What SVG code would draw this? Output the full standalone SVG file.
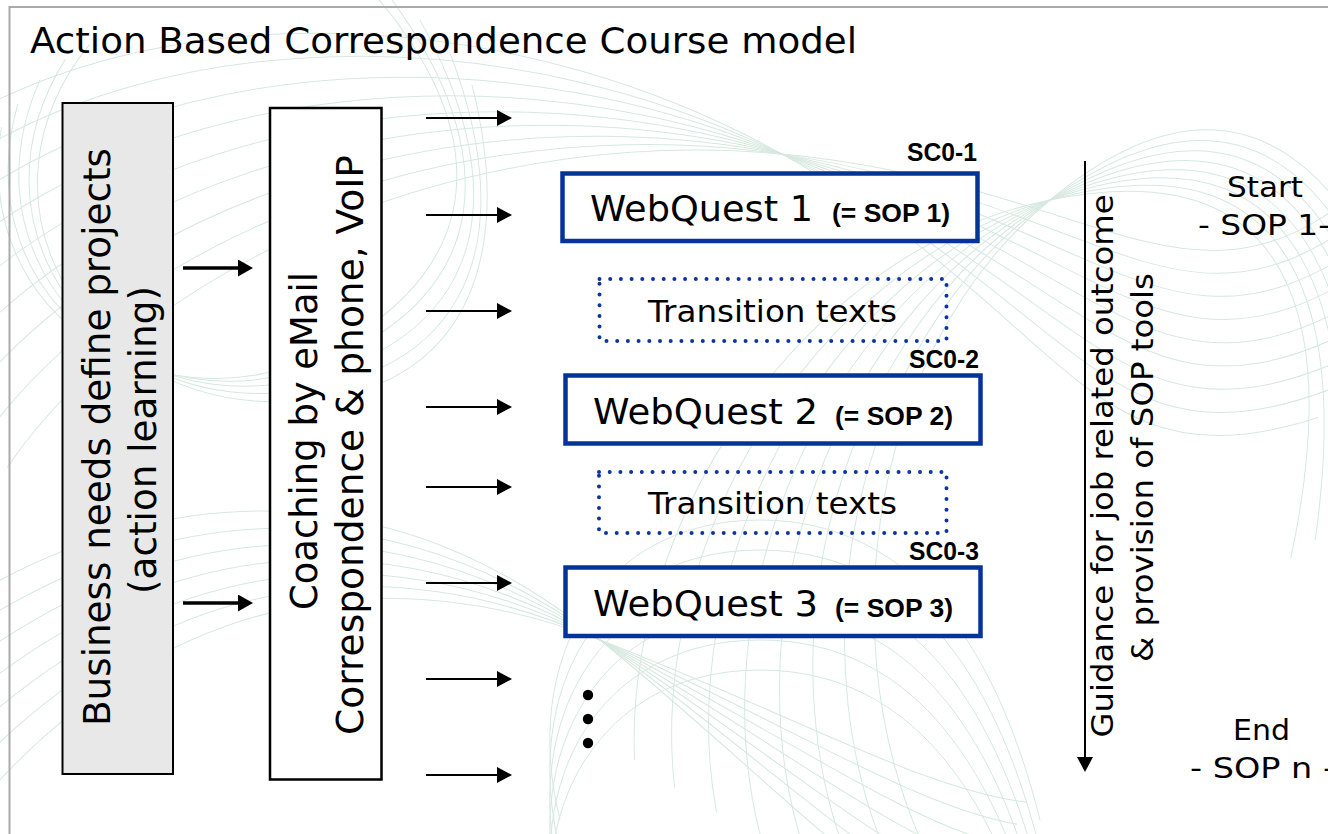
<svg xmlns="http://www.w3.org/2000/svg" xmlns:xlink="http://www.w3.org/1999/xlink" width="1328" height="834" viewBox="0 0 1328 834">
  <style>
    .sans { font-family: "DejaVu Sans", Verdana, sans-serif; fill: #000; }
    .bold { font-family: "Liberation Sans", Arial, sans-serif; font-weight: bold; fill: #000; }
    .quest { fill: #fff; stroke: #063399; stroke-width: 4.5; }
    .trans { fill: none; stroke: #0a35a0; stroke-width: 4; stroke-linecap: round; stroke-dasharray: 0 10.7; }
    .thin { stroke: #000; stroke-width: 2; fill: none; }
    .thick { stroke: #000; stroke-width: 3.5; fill: none; }
    .swirl { fill: none; stroke: #d6e8e0; stroke-width: 1; }
  </style>
  <defs>
    <marker id="head" viewBox="0 0 15 16" refX="0" refY="8" markerWidth="15" markerHeight="16" markerUnits="userSpaceOnUse" orient="auto">
      <path d="M0,0 L15,8 L0,16 Z" fill="#000"/>
    </marker>
    <marker id="headBig" viewBox="0 0 15 17" refX="0" refY="8.5" markerWidth="15" markerHeight="17" markerUnits="userSpaceOnUse" orient="auto">
      <path d="M0,0 L15,8.5 L0,17 Z" fill="#000"/>
    </marker>
    <!-- building blocks of the background guilloche -->
    <path id="c1" d="M-40,300 C150,120 500,60 800,160 S1150,420 1360,300"/>
    <path id="c2" d="M760,834 C700,600 820,300 1050,200 S1360,260 1360,500"/>
    <path id="c3" d="M-20,700 C200,520 420,540 600,640 S900,834 1000,860"/>
    <path id="c4" d="M40,80 C-40,260 120,420 300,380 S520,200 420,20"/>
    <path id="c5" d="M560,860 C520,700 600,560 760,560 S1000,700 1040,860"/>
  </defs>

  <rect width="1328" height="834" fill="#fff"/>

  <!-- faint guilloche texture -->
  <g id="texture" class="swirl">
    <g>
      <use xlink:href="#c1" transform="rotate(-12 780 160)"/>
      <use xlink:href="#c1" transform="rotate(-9 780 160)"/>
      <use xlink:href="#c1" transform="rotate(-6 780 160)"/>
      <use xlink:href="#c1" transform="rotate(-3 780 160)"/>
      <use xlink:href="#c1"/>
      <use xlink:href="#c1" transform="rotate(3 780 160)"/>
      <use xlink:href="#c1" transform="rotate(6 780 160)"/>
      <use xlink:href="#c1" transform="rotate(9 780 160)"/>
      <use xlink:href="#c1" transform="rotate(12 780 160)"/>
    </g>
    <g>
      <use xlink:href="#c2" transform="rotate(-16 1050 200)"/>
      <use xlink:href="#c2" transform="rotate(-12 1050 200)"/>
      <use xlink:href="#c2" transform="rotate(-8 1050 200)"/>
      <use xlink:href="#c2" transform="rotate(-4 1050 200)"/>
      <use xlink:href="#c2"/>
      <use xlink:href="#c2" transform="rotate(4 1050 200)"/>
      <use xlink:href="#c2" transform="rotate(8 1050 200)"/>
      <use xlink:href="#c2" transform="rotate(12 1050 200)"/>
    </g>
    <g>
      <use xlink:href="#c3" transform="rotate(-8 600 640)"/>
      <use xlink:href="#c3" transform="rotate(-5 600 640)"/>
      <use xlink:href="#c3" transform="rotate(-2 600 640)"/>
      <use xlink:href="#c3" transform="rotate(1 600 640)"/>
      <use xlink:href="#c3" transform="rotate(4 600 640)"/>
      <use xlink:href="#c3" transform="rotate(7 600 640)"/>
      <use xlink:href="#c3" transform="rotate(10 600 640)"/>
    </g>
    <g>
      <use xlink:href="#c4" transform="rotate(-15 200 250)"/>
      <use xlink:href="#c4" transform="rotate(-8 200 250)"/>
      <use xlink:href="#c4"/>
      <use xlink:href="#c4" transform="rotate(8 200 250)"/>
      <use xlink:href="#c4" transform="rotate(15 200 250)"/>
    </g>
    <g>
      <use xlink:href="#c5" transform="translate(0 -40)"/>
      <use xlink:href="#c5" transform="translate(0 -10)"/>
      <use xlink:href="#c5" transform="translate(0 20)"/>
      <use xlink:href="#c5" transform="translate(0 50)"/>
      <use xlink:href="#c5" transform="translate(0 80)"/>
      <use xlink:href="#c5" transform="translate(0 110)"/>
    </g>
  </g>

  <!-- slide frame (top and left edges) -->
  <path d="M9.5,834 V7 H1328" fill="none" stroke="#aaaaaa" stroke-width="2"/>

  <text id="title" class="sans" x="30" y="53" font-size="36" textLength="827" lengthAdjust="spacingAndGlyphs">Action Based Correspondence Course model</text>

  <g id="business">
    <rect x="62.5" y="103" width="110.5" height="671" fill="#e8e8e8" stroke="#000" stroke-width="2"/>
    <text class="sans" font-size="37" text-anchor="middle" transform="translate(110 437) rotate(-90)" textLength="578" lengthAdjust="spacingAndGlyphs">Business needs define projects</text>
    <text class="sans" font-size="37" text-anchor="middle" transform="translate(156 440) rotate(-90)" textLength="308" lengthAdjust="spacingAndGlyphs">(action learning)</text>
  </g>

  <g id="coaching">
    <rect x="270" y="108" width="111.5" height="671.5" fill="#fff" stroke="#000" stroke-width="2.5"/>
    <text class="sans" font-size="37" text-anchor="middle" transform="translate(317 441) rotate(-90)" textLength="338" lengthAdjust="spacingAndGlyphs">Coaching by eMail</text>
    <text class="sans" font-size="37" text-anchor="middle" transform="translate(363 445) rotate(-90)" textLength="580" lengthAdjust="spacingAndGlyphs">Correspondence &amp; phone, VoIP</text>
  </g>

  <g id="webquest1">
    <text class="bold" x="977" y="161" font-size="25" text-anchor="end" textLength="70" lengthAdjust="spacingAndGlyphs">SC0-1</text>
    <rect class="quest" x="562.5" y="173.5" width="415" height="67.5"/>
    <text class="sans" x="590" y="221" font-size="35" textLength="223" lengthAdjust="spacingAndGlyphs">WebQuest 1</text>
    <text class="bold" x="832" y="222" font-size="25" textLength="118" lengthAdjust="spacingAndGlyphs">(= SOP 1)</text>
  </g>

  <g id="transition1">
    <rect class="trans" x="599.5" y="279" width="347" height="62"/>
    <text class="sans" x="648" y="322" font-size="30" textLength="249" lengthAdjust="spacingAndGlyphs">Transition texts</text>
  </g>

  <g id="webquest2">
    <text class="bold" x="979" y="368" font-size="25" text-anchor="end" textLength="70" lengthAdjust="spacingAndGlyphs">SC0-2</text>
    <rect class="quest" x="565.5" y="375.5" width="415" height="68"/>
    <text class="sans" x="593" y="424" font-size="35" textLength="225" lengthAdjust="spacingAndGlyphs">WebQuest 2</text>
    <text class="bold" x="835" y="425" font-size="25" textLength="118" lengthAdjust="spacingAndGlyphs">(= SOP 2)</text>
  </g>

  <g id="transition2">
    <rect class="trans" x="599" y="472" width="347.5" height="61"/>
    <text class="sans" x="648" y="514" font-size="30" textLength="249" lengthAdjust="spacingAndGlyphs">Transition texts</text>
  </g>

  <g id="webquest3">
    <text class="bold" x="979" y="560" font-size="25" text-anchor="end" textLength="70" lengthAdjust="spacingAndGlyphs">SC0-3</text>
    <rect class="quest" x="565.5" y="567.5" width="415" height="68.5"/>
    <text class="sans" x="593" y="616" font-size="35" textLength="225" lengthAdjust="spacingAndGlyphs">WebQuest 3</text>
    <text class="bold" x="835" y="617" font-size="25" textLength="118" lengthAdjust="spacingAndGlyphs">(= SOP 3)</text>
  </g>

  <g id="more" fill="#000">
    <circle cx="588" cy="695" r="5.2"/>
    <circle cx="588" cy="719" r="5.2"/>
    <circle cx="588" cy="743" r="5.2"/>
  </g>

  <g id="guidance">
    <text class="sans" font-size="31" text-anchor="middle" transform="translate(1113 466) rotate(-90)" textLength="543" lengthAdjust="spacingAndGlyphs">Guidance for job related outcome</text>
    <text class="sans" font-size="31" text-anchor="middle" transform="translate(1153 467.5) rotate(-90)" textLength="389" lengthAdjust="spacingAndGlyphs">&amp; provision of SOP tools</text>
  </g>

  <g id="start">
    <text class="sans" x="1265" y="197" font-size="29" text-anchor="middle" textLength="76" lengthAdjust="spacingAndGlyphs">Start</text>
    <text class="sans" x="1198" y="235" font-size="29" textLength="132" lengthAdjust="spacingAndGlyphs">- SOP 1-</text>
  </g>

  <g id="end">
    <text class="sans" x="1261.5" y="740" font-size="29" text-anchor="middle" textLength="57" lengthAdjust="spacingAndGlyphs">End</text>
    <text class="sans" x="1190" y="778" font-size="29" textLength="145" lengthAdjust="spacingAndGlyphs">- SOP n -</text>
  </g>

  <g id="connectors">
    <line class="thick" x1="183" y1="268" x2="238" y2="268" marker-end="url(#headBig)"/>
    <line class="thick" x1="183" y1="603" x2="238" y2="603" marker-end="url(#headBig)"/>

    <line class="thin" x1="426" y1="118" x2="497" y2="118" marker-end="url(#head)"/>
    <line class="thin" x1="426" y1="215" x2="497" y2="215" marker-end="url(#head)"/>
    <line class="thin" x1="426" y1="311" x2="497" y2="311" marker-end="url(#head)"/>
    <line class="thin" x1="426" y1="407" x2="497" y2="407" marker-end="url(#head)"/>
    <line class="thin" x1="426" y1="487" x2="497" y2="487" marker-end="url(#head)"/>
    <line class="thin" x1="426" y1="583" x2="497" y2="583" marker-end="url(#head)"/>
    <line class="thin" x1="426" y1="679" x2="497" y2="679" marker-end="url(#head)"/>
    <line class="thin" x1="426" y1="775" x2="497" y2="775" marker-end="url(#head)"/>

    <line class="thin" x1="1085" y1="161" x2="1085" y2="757" marker-end="url(#head)"/>
  </g>
</svg>
